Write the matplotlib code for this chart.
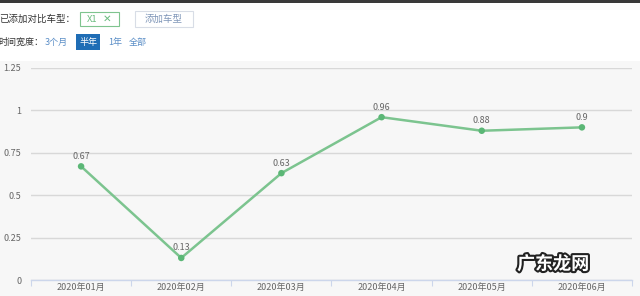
import matplotlib
matplotlib.use('Agg')
import matplotlib.pyplot as plt
import matplotlib.patheffects as pe
from matplotlib.patches import Rectangle

plt.rcParams['font.family'] = ['Noto Sans CJK SC', 'DejaVu Sans']

months = ['2020年01月', '2020年02月', '2020年03月', '2020年04月', '2020年05月', '2020年06月']
values = [0.67, 0.13, 0.63, 0.96, 0.88, 0.9]
value_labels = ['0.67', '0.13', '0.63', '0.96', '0.88', '0.9']
yticks = [0, 0.25, 0.5, 0.75, 1, 1.25]
ytick_labels = ['0', '0.25', '0.5', '0.75', '1', '1.25']

W, H = 640, 296
fig = plt.figure(figsize=(6.4, 2.96), dpi=100)
fig.patch.set_facecolor('white')


def fx(px):
    return px / W


def fy(py):
    return 1 - py / H


# gray chart area (drawn under the axes)
fig.patches.append(Rectangle((0, 0), 1, fy(61), transform=fig.transFigure,
                             facecolor='#f7f7f7', edgecolor='none', zorder=-2))
# dark top strip
fig.patches.append(Rectangle((0, fy(3)), 1, 3 / H, transform=fig.transFigure,
                             facecolor='#3a3a3a', edgecolor='none', zorder=-2))

# header
fig.text(fx(-1), fy(19), '已添加对比车型：', fontsize=6.8, color='#333333', va='center')
fig.patches.append(Rectangle((fx(80), fy(26)), 39 / W, 14 / H, transform=fig.transFigure,
                             facecolor='white', edgecolor='#7fc48f', lw=0.8))
fig.text(fx(87), fy(19), 'X1', fontsize=6.8, color='#6cbc80', va='center')
fig.text(fx(103), fy(19), '✕', fontsize=7.5, color='#6cbc80', va='center',
         family=['DejaVu Sans'])
fig.patches.append(Rectangle((fx(135), fy(27)), 58 / W, 16 / H, transform=fig.transFigure,
                             facecolor='white', edgecolor='#d8dde6', lw=0.8))
fig.text(fx(164), fy(19), '添加车型', fontsize=6.8, color='#7f96b8', va='center', ha='center')

fig.text(fx(-2), fy(42), '时间宽度：', fontsize=6.5, color='#333333', va='center')
fig.text(fx(45), fy(42), '3个月', fontsize=6.5, color='#5b8ec7', va='center')
fig.patches.append(Rectangle((fx(76), fy(50)), 24 / W, 16 / H, transform=fig.transFigure,
                             facecolor='#1f6db5', edgecolor='none'))
fig.text(fx(88), fy(42), '半年', fontsize=6.5, color='white', va='center', ha='center')
fig.text(fx(108), fy(42), '1年', fontsize=6.5, color='#5b8ec7', va='center')
fig.text(fx(129), fy(42), '全部', fontsize=6.5, color='#5b8ec7', va='center')

# chart
ax = fig.add_axes([fx(31), fy(280), 601 / W, 212 / H])
ax.set_facecolor('none')
x = list(range(len(months)))
ax.plot(x, values, color='#7cc48f', lw=1.8, zorder=3)
ax.scatter(x, values, s=22, color='#5bb776', zorder=4, edgecolors='none')
for xi, v, lab in zip(x, values, value_labels):
    ax.annotate(lab, (xi, v), xytext=(0, 4), textcoords='offset points',
                ha='center', va='bottom', fontsize=6.5, color='#666666')

ax.set_xlim(-0.5, len(months) - 0.5)
ax.set_ylim(0, 1.25)
ax.set_yticks(yticks)
ax.set_yticklabels(ytick_labels)
ax.set_xticks(x)
ax.set_xticklabels(months)
ax.set_xticks([i - 0.5 for i in range(len(months) + 1)], minor=True)
ax.tick_params(axis='x', which='major', length=0, pad=2, labelsize=6.5, colors='#666666')
ax.tick_params(axis='x', which='minor', length=4, color='#ccd6eb', width=0.8)
ax.tick_params(axis='y', length=0, pad=7, labelsize=6.5, colors='#666666')
ax.grid(axis='y', color='#d8d8d8', lw=1)
for sp in ['top', 'right', 'left']:
    ax.spines[sp].set_visible(False)
ax.spines['bottom'].set_color('#ccd6eb')
ax.spines['bottom'].set_linewidth(1)
ax.set_axisbelow(True)

# watermark
fig.text(fx(553), fy(264), '广东龙网', fontsize=13, color='white', fontweight='bold',
         ha='center', va='center',
         path_effects=[pe.withStroke(linewidth=3, foreground='#222222')])

fig.savefig('out.png', dpi=100)
